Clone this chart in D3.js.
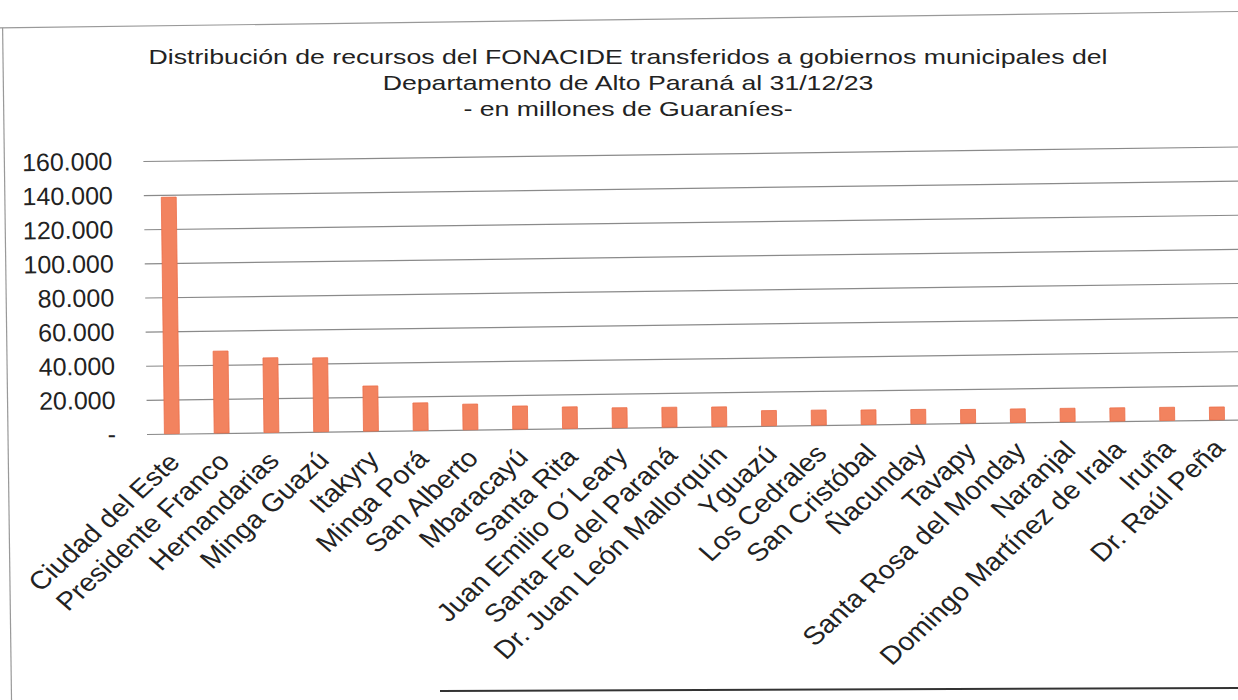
<!DOCTYPE html>
<meta charset="utf-8">
<script src="https://d3js.org/d3.v7.min.js"></script>
<style>
  body { margin: 0; background: #fff; }
  text { font-family: "Liberation Sans", Arial, sans-serif; fill: #222; }
</style>
<div id="chart"></div>
<script>
// datos (millones de Gs.)
const municipios = ["Ciudad del Este", "Presidente Franco", "Hernandarias", "Minga Guazú",
  "Itakyry", "Minga Porá", "San Alberto", "Mbaracayú", "Santa Rita", "Juan Emilio O´Leary",
  "Santa Fe del Paraná", "Dr. Juan León Mallorquín", "Yguazú", "Los Cedrales",
  "San Cristóbal", "Ñacunday", "Tavapy", "Santa Rosa del Monday", "Naranjal",
  "Domingo Martínez de Irala", "Iruña", "Dr. Raúl Peña"];
const montos = [138600, 48000, 43700, 43300, 26400, 16100, 15000, 13500, 12600, 11700,
  11600, 11400, 8900, 8800, 8500, 8400, 8000, 7950, 7900, 7800, 7700, 7500];
const yTicks = [0, 20000, 40000, 60000, 80000, 100000, 120000, 140000, 160000];
const titulo = ["Distribución de recursos del FONACIDE transferidos a gobiernos municipales del",
  "Departamento de Alto Paraná al 31/12/23",
  "- en millones de Guaraníes-"];

const W = 1238, H = 700;
const x0 = 147, x1 = 1242, yBase = 434, yTop = 161;

const svg = d3.select("#chart").append("svg")
  .attr("width", W).attr("height", H);

// titulo (la imagen original esta estirada a lo ancho)
svg.append("g").selectAll("text")
  .data(titulo)
  .join("text")
  .attr("transform", (d, i) => `translate(628,${64 + i * 26}) scale(1.27,1)`)
  .attr("text-anchor", "middle")
  .style("font-size", "21px")
  .text(d => d);

// el escaneo esta levemente girado
const g = svg.append("g")
  .attr("transform", `rotate(-0.76, ${x0}, ${yBase})`);

// marco de la hoja
g.append("line").attr("x1", -20).attr("x2", W + 40).attr("y1", 26).attr("y2", 26)
  .attr("stroke", "#999").attr("stroke-width", 1.2);
g.append("line").attr("x1", 8).attr("x2", 8).attr("y1", 26).attr("y2", H + 20)
  .attr("stroke", "#999").attr("stroke-width", 1.2);

const x = d3.scaleBand()
  .domain(municipios)
  .range([x0, x1])
  .paddingInner(0.7)
  .paddingOuter(0.35);

const y = d3.scaleLinear()
  .domain([0, 160000])
  .range([yBase, yTop]);

const loc = d3.formatLocale({decimal: ",", thousands: ".", grouping: [3], currency: ["", ""]});
const fmt = v => v === 0 ? "-" : loc.format(",")(v);

// lineas de grilla
const grid = g.append("g")
  .attr("transform", `translate(${x0},0)`)
  .call(d3.axisLeft(y).tickValues(yTicks).tickSize(-(x1 - x0)).tickFormat(""));
grid.select(".domain").remove();
grid.selectAll("line").attr("stroke", "#8a8a8a").attr("stroke-width", 1.2);

// eje y
const yAxis = g.append("g")
  .attr("transform", `translate(${x0},0)`)
  .call(d3.axisLeft(y).tickValues(yTicks).tickSize(0).tickPadding(31).tickFormat(fmt));
yAxis.select(".domain").remove();
yAxis.selectAll("text")
  .style("font-size", "25px")
  .attr("fill", "#222");

// barras
g.append("g").selectAll("rect")
  .data(montos)
  .join("rect")
  .attr("x", (d, i) => x(municipios[i]))
  .attr("y", d => y(d))
  .attr("width", x.bandwidth())
  .attr("height", d => y(0) - y(d))
  .attr("fill", "#f2835f")
  .attr("stroke", "#ec6d48")
  .attr("stroke-width", 0.8);

// eje x con etiquetas inclinadas
const xAxis = g.append("g")
  .attr("transform", `translate(0,${yBase})`)
  .call(d3.axisBottom(x).tickSize(0));
xAxis.select(".domain").remove();
xAxis.selectAll("text")
  .style("font-size", "25.5px")
  .attr("fill", "#222")
  .attr("text-anchor", "end")
  .attr("x", 0).attr("y", 0).attr("dy", 0)
  .attr("transform", "translate(9,30) scale(1.12,1) rotate(-45)");

// linea inferior de la hoja
svg.append("line")
  .attr("x1", 440).attr("x2", W).attr("y1", 691).attr("y2", 688)
  .attr("stroke", "#333").attr("stroke-width", 2);
</script>
